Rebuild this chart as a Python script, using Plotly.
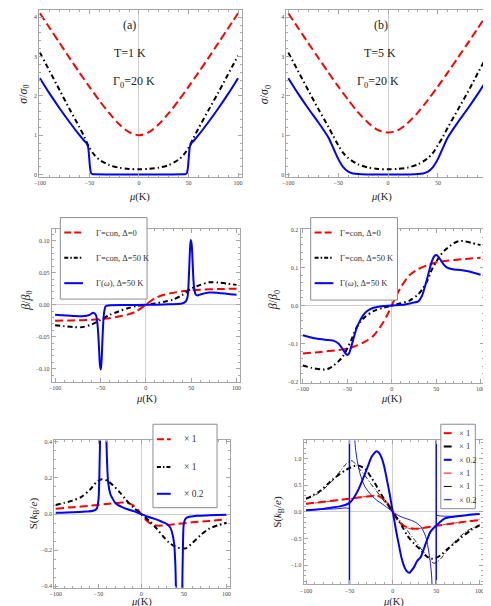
import plotly.graph_objects as go

W, H = 491, 606
SERIF = "Liberation Serif"
RED, BLACK, BLUE = "#ff0000", "#000000", "#0000ff"

# ---------------- data ----------------
# (a)/(b): sigma/sigma0 vs mu
mu_s = [-100,-90,-80,-70,-60,-50,-40,-30,-20,-10,0,10,20,30,40,50,60,70,80,90,100]
sig_a_red = [4.1,3.72,3.34,2.96,2.59,2.23,1.88,1.56,1.28,1.08,1.0,1.08,1.28,1.56,1.88,2.23,2.59,2.96,3.34,3.72,4.1]
sig_b_red = [4.1,3.72,3.34,2.97,2.6,2.24,1.9,1.58,1.32,1.13,1.07,1.13,1.32,1.58,1.9,2.24,2.6,2.97,3.34,3.72,4.1]
mu_s_blk = [-100,-90,-80,-70,-60,-55,-50,-45,-40,-30,-20,-10,0,10,20,30,40,45,50,55,60,70,80,90,100]
sig_a_blk = [3.1,2.62,2.14,1.66,1.2,0.95,0.68,0.5,0.38,0.24,0.175,0.145,0.135,0.145,0.175,0.24,0.38,0.5,0.68,0.93,1.17,1.63,2.08,2.55,3.02]
sig_b_blk = [3.1,2.62,2.14,1.67,1.22,0.98,0.75,0.55,0.42,0.26,0.18,0.145,0.135,0.145,0.18,0.26,0.42,0.55,0.75,0.96,1.2,1.65,2.1,2.58,3.05]
mu_a_blu = [-100,-90,-80,-70,-60,-56,-53,-51.5,-50.5,-49.5,-48.5,-47,-45,-30,0,30,45,47,48.5,49.5,50.5,51.5,53,56,60,70,80,90,100]
sig_a_blu = [2.45,2.05,1.68,1.33,1.0,0.88,0.8,0.72,0.5,0.2,0.05,0.012,0.008,0.005,0.005,0.005,0.008,0.012,0.05,0.2,0.5,0.72,0.8,0.88,1.0,1.33,1.68,2.05,2.45]
mu_b_blu = [-100,-90,-80,-70,-60,-55,-50,-45,-40,-35,-30,-20,0,20,30,35,40,45,50,55,60,70,80,90,100]
sig_b_blu = [2.45,2.05,1.68,1.33,0.95,0.68,0.4,0.19,0.075,0.028,0.012,0.005,0.004,0.005,0.012,0.028,0.075,0.19,0.4,0.68,0.95,1.33,1.68,2.05,2.45]

# (c): beta/beta0, T=1 K
mu_c_red = [-100,-80,-60,-50,-40,-30,-20,-10,0,10,20,30,40,50,60,80,100]
beta_c_red = [-0.025,-0.0245,-0.0235,-0.0225,-0.021,-0.0185,-0.0155,-0.01,0,0.01,0.0155,0.0185,0.021,0.0225,0.0235,0.0245,0.025]
mu_c_blk = [-100,-90,-80,-70,-60,-50,-40,-30,-20,-10,0,10,20,30,40,50,60,70,80,90,100]
beta_c_blk = [-0.032,-0.0335,-0.035,-0.035,-0.031,-0.024,-0.016,-0.0105,-0.0055,-0.002,0,0.002,0.0045,0.008,0.015,0.025,0.031,0.035,0.0345,0.033,0.031]
mu_c_blu = [-100,-80,-70,-62,-58,-55,-53,-51.5,-50.5,-49.5,-48.5,-47.5,-46,-44,-40,-20,0,20,40,44,46,47.5,48.5,49.5,50.5,51.5,53,55,57,60,70,80,100]
beta_c_blu = [-0.0155,-0.0175,-0.018,-0.016,-0.0125,-0.016,-0.035,-0.07,-0.095,-0.101,-0.08,-0.045,-0.012,-0.002,-0.001,-0.0005,0,0.0005,0.002,0.005,0.012,0.045,0.08,0.101,0.095,0.07,0.03,0.016,0.0145,0.016,0.019,0.0185,0.0155]

# (d): beta/beta0, T=5 K
mu_d_red = [-100,-80,-60,-50,-40,-30,-20,-10,-5,0,5,10,20,30,40,50,60,80,100]
beta_d_red = [-0.126,-0.122,-0.117,-0.113,-0.106,-0.095,-0.078,-0.046,-0.025,0,0.025,0.047,0.08,0.096,0.106,0.113,0.117,0.122,0.126]
mu_d_blk = [-100,-90,-80,-75,-70,-65,-60,-55,-50,-45,-40,-35,-30,-20,-10,0,10,20,30,35,40,45,50,55,60,65,70,75,80,90,100]
beta_d_blk = [-0.158,-0.164,-0.168,-0.168,-0.165,-0.157,-0.147,-0.134,-0.113,-0.088,-0.06,-0.042,-0.03,-0.014,-0.006,0,0.006,0.013,0.03,0.045,0.065,0.094,0.115,0.133,0.146,0.156,0.164,0.169,0.17,0.165,0.159]
mu_d_blu = [-100,-85,-70,-65,-60,-55,-52,-50,-48,-46,-43,-40,-36,-32,-28,-22,-15,0,15,23,30,34,38,42,45,48,50,52,56,60,64,70,75,86,100]
beta_d_blu = [-0.078,-0.087,-0.091,-0.093,-0.1,-0.115,-0.126,-0.13,-0.126,-0.112,-0.087,-0.063,-0.041,-0.025,-0.015,-0.007,-0.003,0,0.003,0.007,0.011,0.025,0.055,0.09,0.115,0.13,0.133,0.13,0.116,0.104,0.098,0.095,0.094,0.09,0.081]

# (e): Seebeck S, T=1 K
mu_e_red = [-100,-80,-60,-40,-25,-18,-12,-6,0,6,12,18,25,40,60,80,100]
S_e_red = [0.03,0.038,0.046,0.056,0.063,0.064,0.055,0.035,0,-0.035,-0.055,-0.064,-0.063,-0.056,-0.046,-0.038,-0.03]
mu_e_blk = [-100,-90,-80,-70,-60,-52,-46,-40,-33,-25,-18,-10,0,10,18,25,33,40,46,52,60,70,80,90,100]
S_e_blk = [0.05,0.062,0.075,0.095,0.135,0.178,0.193,0.185,0.16,0.12,0.08,0.04,0,-0.04,-0.08,-0.12,-0.16,-0.18,-0.19,-0.19,-0.16,-0.115,-0.08,-0.062,-0.048]
mu_e_blu = [-100,-80,-65,-56,-52,-50,-49,-48,-46,-44,-42,-41,-40,-38.5,-36,-34,-30,-23,-15,-8,0,8,15,23,30,34,36,38.5,40,41,42,44,46,48,49,50,52,56,65,80,100]
S_e_blu = [0.007,0.01,0.014,0.018,0.03,0.08,0.2,0.45,1.2,1.5,1.0,0.5,0.3,0.17,0.11,0.09,0.06,0.04,0.025,0.015,0,-0.015,-0.025,-0.04,-0.055,-0.075,-0.1,-0.16,-0.28,-0.5,-1.0,-1.5,-1.2,-0.45,-0.15,-0.05,-0.025,-0.015,-0.01,-0.007,-0.004]

# (f): Seebeck S, thick and thin curves
mu_f_red = [-100,-80,-65,-50,-40,-30,-22,-17,-12,-8,-5,0,5,8,12,17,24,30,40,51,65,80,100]
S_f_red = [0.155,0.19,0.22,0.25,0.27,0.29,0.3,0.3,0.26,0.2,0.14,0,-0.14,-0.2,-0.25,-0.29,-0.315,-0.31,-0.285,-0.26,-0.225,-0.19,-0.15]
S_f_red_thin = [0.15,0.185,0.215,0.245,0.27,0.295,0.31,0.305,0.265,0.2,0.135,0,-0.135,-0.2,-0.26,-0.3,-0.32,-0.31,-0.28,-0.255,-0.22,-0.185,-0.145]
mu_f_blk = [-100,-85,-70,-55,-45,-40,-32,-25,-20,-10,0,10,17,25,32,38,44,50,56,62,70,78,90,100]
S_f_blk = [0.25,0.38,0.6,0.78,0.86,0.87,0.81,0.65,0.52,0.24,0,-0.25,-0.45,-0.6,-0.71,-0.82,-0.875,-0.86,-0.8,-0.71,-0.6,-0.49,-0.34,-0.25]
mu_f_blk_thin = [-100,-85,-70,-60,-55,-50,-47,-43,-38,-32,-25,-20,-10,0,10,20,25,32,38,43,47,50,55,60,70,85,100]
S_f_blk_thin = [0.24,0.36,0.58,0.78,0.88,0.95,0.96,0.9,0.8,0.68,0.52,0.42,0.2,0,-0.2,-0.42,-0.52,-0.68,-0.8,-0.9,-0.96,-0.95,-0.88,-0.78,-0.58,-0.36,-0.24]
mu_f_blu = [-100,-85,-70,-60,-55,-50,-47,-43,-40,-36,-32,-28,-24.6,-21,-19,-16,-13,-10,-7.5,-4,0,4,7.5,10,13,16,19,21,24.6,28,32,36,40,43,47,50,55,60,70,85,100]
S_f_blu = [0.03,0.05,0.085,0.11,0.13,0.17,0.22,0.32,0.41,0.56,0.72,0.89,1.03,1.11,1.14,1.11,1.02,0.86,0.66,0.37,0,-0.37,-0.66,-0.86,-1.02,-1.11,-1.14,-1.11,-1.03,-0.92,-0.85,-0.68,-0.5,-0.38,-0.3,-0.26,-0.18,-0.12,-0.09,-0.06,-0.04]
mu_f_blu_thin = [-100,-80,-65,-55,-51.5,-50,None,-46,-45,-43.5,-41.7,-37.8,-32,-20.8,-9.5,0,9.5,24.6,32,37.8,41.7,44.7,46,None,50,55,62,70,80,90,100]
S_f_blu_thin = [0.04,0.05,0.06,0.075,0.07,0.06,None,3.0,1.8,1.28,1.03,0.72,0.47,0.25,0.12,0,-0.09,-0.18,-0.27,-0.46,-0.77,-1.2,-2.5,None,-0.06,-0.075,-0.08,-0.08,-0.07,-0.055,-0.045]
mu_f_pole = [-50, -50, None, 50, 50]
S_f_pole = [-3, 3, None, -3, 3]

legend_c_labels = ["Γ=con, Δ=0", "Γ=con, Δ=50 K", "Γ(<i>ω</i>), Δ=50 K"]
legend_e_labels = ["× 1", "× 1", "× 0.2"]
legend_f_labels = ["× 1", "× 1", "× 0.2", "× 1", "× 1", "× 0.2"]

# ---------------- helpers ----------------
def dx(l, r):
    return [l / W, r / W]

def dy(t, b):
    return [1 - b / H, 1 - t / H]

FRAME = "#a6a6a6"

def axis(domain, rng, dtick, mdtick, anchor, fmt=None, zeroline=False):
    d = dict(domain=domain, range=rng, anchor=anchor, showgrid=False,
             zeroline=zeroline, zerolinecolor="#cfcfcf", zerolinewidth=1,
             showline=True, linecolor=FRAME, linewidth=1, mirror="allticks",
             ticks="inside", ticklen=4, tickwidth=0.8, tickcolor=FRAME,
             tick0=0, dtick=dtick,
             minor=dict(ticks="inside", ticklen=2, tickwidth=0.6, dtick=mdtick,
                        tick0=0, tickcolor=FRAME, showgrid=False),
             tickfont=dict(family=SERIF, size=6, color="#444444"),
             fixedrange=True)
    if fmt:
        d["tickformat"] = fmt
    return d

fig = go.Figure()

DASH_R = "8px,4px"
DASH_K = "5px,3px,1.5px,3px"

def add(x, y, color, width, dash, n, shape="spline"):
    sfx = "" if n == 1 else str(n)
    fig.add_trace(go.Scatter(
        x=x, y=y, mode="lines",
        line=dict(color=color, width=width, dash=dash, shape=shape, smoothing=0.8),
        xaxis="x" + sfx, yaxis="y" + sfx, showlegend=False,
        connectgaps=False, hoverinfo="skip"))

# (a)
add(mu_s, sig_a_red, RED, 2, DASH_R, 1)
add(mu_s_blk, sig_a_blk, BLACK, 2, DASH_K, 1)
add(mu_a_blu, sig_a_blu, BLUE, 2, "solid", 1)
# (b)
add(mu_s, sig_b_red, RED, 2, DASH_R, 2)
add(mu_s_blk, sig_b_blk, BLACK, 2, DASH_K, 2)
add(mu_b_blu, sig_b_blu, BLUE, 2, "solid", 2)
# (c)
add(mu_c_red, beta_c_red, RED, 2, DASH_R, 3)
add(mu_c_blk, beta_c_blk, BLACK, 2, DASH_K, 3)
add(mu_c_blu, beta_c_blu, BLUE, 2, "solid", 3)
# (d)
add(mu_d_red, beta_d_red, RED, 2, DASH_R, 4)
add(mu_d_blk, beta_d_blk, BLACK, 2, DASH_K, 4)
add(mu_d_blu, beta_d_blu, BLUE, 2, "solid", 4)
# (e)
add(mu_e_red, S_e_red, RED, 2, DASH_R, 5)
add(mu_e_blk, S_e_blk, BLACK, 2, DASH_K, 5)
add(mu_e_blu, S_e_blu, BLUE, 2, "solid", 5)
# (f)
add(mu_f_red, S_f_red_thin, RED, 0.9, "6px,3px", 6)
add(mu_f_blk_thin, S_f_blk_thin, BLACK, 0.9, "5px,2px,1px,2px", 6)
add(mu_f_blu_thin, S_f_blu_thin, BLUE, 0.9, "solid", 6)
add(mu_f_pole, S_f_pole, BLUE, 1.5, "solid", 6, shape="linear")
add(mu_f_red, S_f_red, RED, 2, DASH_R, 6)
add(mu_f_blk, S_f_blk, BLACK, 2, DASH_K, 6)
add(mu_f_blu, S_f_blu, BLUE, 2, "solid", 6)

lay = dict(width=W, height=H, autosize=False, margin=dict(l=0, r=0, t=0, b=0),
           paper_bgcolor="white", plot_bgcolor="white", showlegend=False,
           font=dict(family=SERIF, color="#222222"))

panels = [
    (26.5, 232, 0.5, 168.3, [-100.8, 103.7], [-0.066, 4.17], 1, 0.2, None, False),
    (277.3, 483.7, 0.5, 168.3, [-102, 102], [-0.066, 4.17], 1, 0.2, None, False),
    (39.3, 230.7, 220, 374, [-103.7, 104.3], [-0.120, 0.119], 0.05, 0.01, ".2f", True),
    (291.7, 478.3, 220, 375, [-102.6, 104.4], [-0.2026, 0.2026], 0.1, 0.02, ".1f", True),
    (41.7, 220, 433.3, 581.7, [-101.9, 103.8], [-0.409, 0.408], 0.2, 0.05, ".1f", True),
    (295, 476.7, 433.3, 578.3, [-102.6, 103.8], [-1.36, 1.342], 0.5, 0.1, ".1f", True),
]
for i, (l, r, t, b, xr, yr, ydt, ymd, fmt, yz) in enumerate(panels):
    n = i + 1
    sfx = "" if n == 1 else str(n)
    lay["xaxis" + sfx] = axis(dx(l, r), xr, 50, 10, "y" + sfx, None, True)
    lay["yaxis" + sfx] = axis(dy(t, b), yr, ydt, ymd, "x" + sfx, fmt, yz)

ann = []
def text(xpx, ypx, s, size, angle=0, xanchor="center", color="#222222"):
    ann.append(dict(x=xpx / W, y=1 - ypx / H, xref="paper", yref="paper", text=s,
                    showarrow=False, textangle=angle, xanchor=xanchor, yanchor="middle",
                    font=dict(family=SERIF, size=size, color=color)))

MU = "<i>μ</i>(K)"
for (xp, yp) in [(128, 188), (374, 188), (135, 392), (384, 392), (130, 595.5), (386, 595.5)]:
    text(xp, yp, MU, 10.5)
SIG = "<i>σ</i>/<i>σ</i><sub>0</sub>"
BET = "<i>β</i>/<i>β</i><sub>0</sub>"
SEE = "S(<i>k</i><sub>B</sub>/<i>e</i>)"
text(11.5, 85, SIG, 12, -90)
text(256.5, 85, SIG, 12, -90)
text(14, 292, BET, 12, -90)
text(265, 292, BET, 12, -90)
text(21, 507, SEE, 11, -90)
text(269, 505, SEE, 11, -90)

text(118.5, 15, "(a)", 12)
text(118.5, 43.5, "T=1 K", 12)
text(123, 72, "Γ<sub>0</sub>=20 K", 12)
text(373.5, 15, "(b)", 12)
text(372.5, 43.5, "T=5 K", 12)
text(370, 72, "Γ<sub>0</sub>=20 K", 12)

# ---------------- legends (boxed keys drawn on top of the panels) ----------------
shapes = []
def legend_box(box, rows, sx0, sx1, tx, size):
    l, t, r, b = box
    shapes.append(dict(type="rect", xref="paper", yref="paper",
                       x0=l / W, x1=r / W, y0=1 - b / H, y1=1 - t / H,
                       fillcolor="white", line=dict(color="#8c8c8c", width=1), layer="above"))
    for (yk, lab, c, w, d) in rows:
        shapes.append(dict(type="line", xref="paper", yref="paper",
                           x0=sx0 / W, x1=sx1 / W, y0=1 - yk / H, y1=1 - yk / H,
                           line=dict(color=c, width=w, dash=d), layer="above"))
        text(tx, yk, lab, size, xanchor="left", color="#333333")

LD_R = "7px,3px"
LD_K = "4px,2px,1.5px,2px"
rows_c = [(224, legend_c_labels[0], RED, 2, LD_R),
          (249.5, legend_c_labels[1], BLACK, 2, LD_K),
          (275, legend_c_labels[2], BLUE, 2, "solid")]
legend_box((48, 209, 136, 291), rows_c, 52, 71, 82, 8.5)
legend_box((302, 209, 390, 292), rows_c, 306, 325, 330, 8.5)
rows_e = [(432, legend_e_labels[0], RED, 2, LD_R),
          (460, legend_e_labels[1], BLACK, 2, LD_K),
          (487, legend_e_labels[2], BLUE, 2, "solid")]
legend_box((142, 417, 207, 501), rows_e, 146, 160, 171, 9.5)
f_styles = [(RED, 2), (BLACK, 2), (BLUE, 2), (RED, 1), (BLACK, 1), (BLUE, 1)]
rows_f = [(426 + 13.4 * k, legend_f_labels[k], f_styles[k][0], f_styles[k][1], "solid")
          for k in range(6)]
legend_box((434, 417, 469, 502), rows_f, 437, 445, 450, 8.5)

lay["annotations"] = ann
lay["shapes"] = shapes
fig.update_layout(**lay)
fig.write_html("out.html")
